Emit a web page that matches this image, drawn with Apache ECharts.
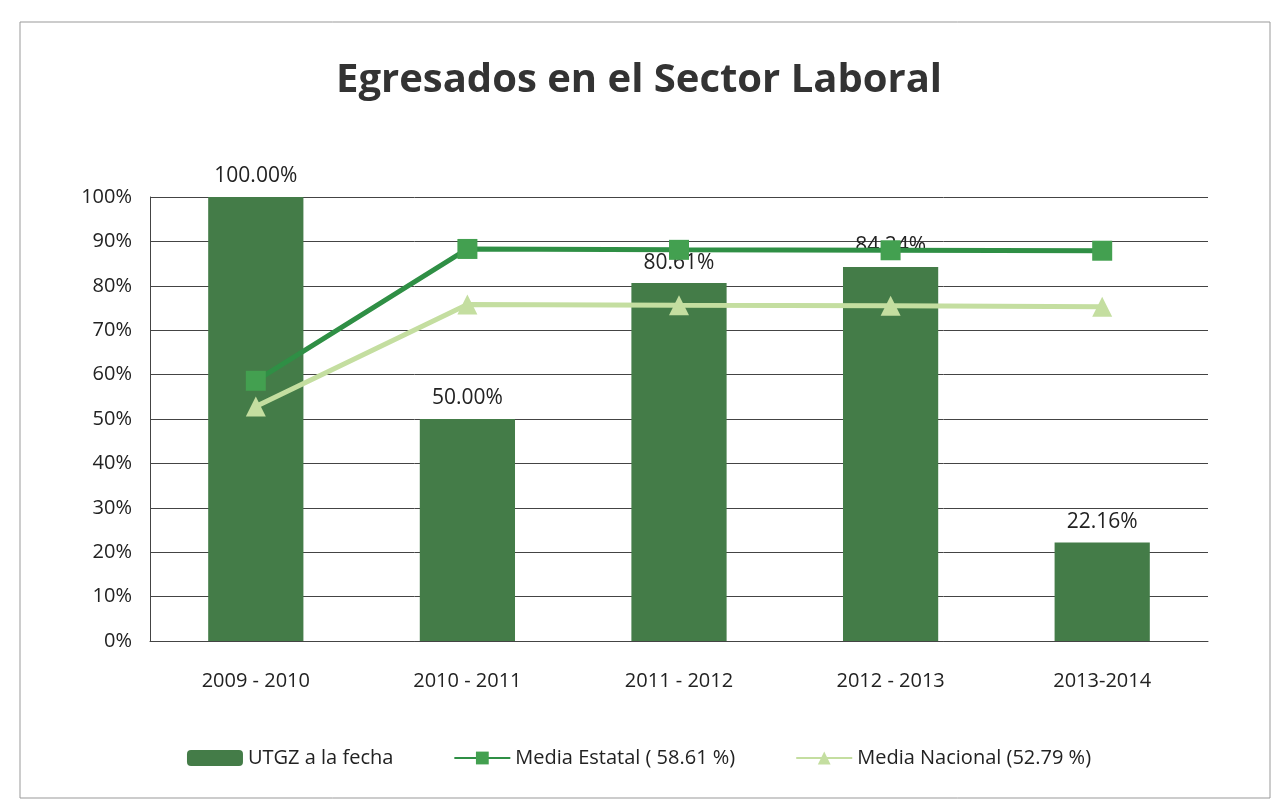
<!DOCTYPE html>
<html>
<head>
<meta charset="utf-8">
<script src="https://cdn.jsdelivr.net/npm/echarts@6/dist/echarts.min.js"></script>
<style>
	html, body { margin: 0; padding: 0; background: #fff; }
	#main { width: 1278px; height: 809px; }
</style>
</head>
<body>
<div id="main"></div>
<script>
	/*datos*/
	var periodos = ['2009 - 2010', '2010 - 2011', '2011 - 2012', '2012 - 2013', '2013-2014'];
	var utgz = [100.00, 50.00, 80.61, 84.24, 22.16];
	var mediaEstatal = [58.61, 88.3, 88.1, 88.0, 87.9];
	var mediaNacional = [52.79, 75.8, 75.6, 75.5, 75.3];
	var fuente = 'Open Sans';

	var myChart = echarts.init(document.getElementById('main'));

	var option = {
		backgroundColor: '#fff',
		title: {
			text: 'Egresados en el Sector Laboral',
			left: 'center',
			top: 56,
			textStyle: { fontFamily: fuente, fontSize: 40, fontWeight: 'bold', color: '#333' }
		},
		graphic: [{
			type: 'rect',
			shape: { x: 20, y: 22, width: 1250, height: 776 },
			style: { fill: 'none', stroke: '#999', lineWidth: 1 }
		}],
		legend: {
			bottom: 36,
			left: 'center',
			itemGap: 60,
			itemWidth: 56,
			itemHeight: 16,
			textStyle: { fontFamily: fuente, fontSize: 20, color: '#222' },
			data: ['UTGZ a la fecha', 'Media Estatal ( 58.61 %)', 'Media Nacional (52.79 %)']
		},
		grid: { left: 150, right: 70, top: 197, bottom: 168 },
		xAxis: {
			type: 'category',
			data: periodos,
			axisTick: { show: false },
			axisLine: { lineStyle: { color: '#444' } },
			axisLabel: { fontFamily: fuente, fontSize: 20, color: '#222', margin: 30 }
		},
		yAxis: {
			type: 'value',
			min: 0,
			max: 100,
			interval: 10,
			axisLabel: { formatter: '{value}%', fontFamily: fuente, fontSize: 20, color: '#222', margin: 18 },
			splitLine: { lineStyle: { color: '#444', width: 1 } },
			axisLine: { show: true, lineStyle: { color: '#444' } }
		},
		series: [{
			name: 'UTGZ a la fecha',
			type: 'bar',
			data: utgz,
			barWidth: '45%',
			itemStyle: { color: '#447c48' },
			label: {
				show: true,
				position: 'top',
				distance: 10,
				formatter: function(p) { return p.value.toFixed(2) + '%'; },
				fontFamily: fuente,
				fontSize: 21,
				color: '#222'
			},
			z: 2
		}, {
			name: 'Media Estatal ( 58.61 %)',
			type: 'line',
			data: mediaEstatal,
			symbol: 'rect',
			symbolSize: 20,
			itemStyle: { color: '#43a050' },
			lineStyle: { color: '#2f8f45', width: 5 },
			z: 4
		}, {
			name: 'Media Nacional (52.79 %)',
			type: 'line',
			data: mediaNacional,
			symbol: 'triangle',
			symbolSize: 20,
			itemStyle: { color: '#c4dea0' },
			lineStyle: { color: '#c4dea0', width: 5 },
			z: 3
		}]
	};

	myChart.setOption(option);
</script>
</body>
</html>
